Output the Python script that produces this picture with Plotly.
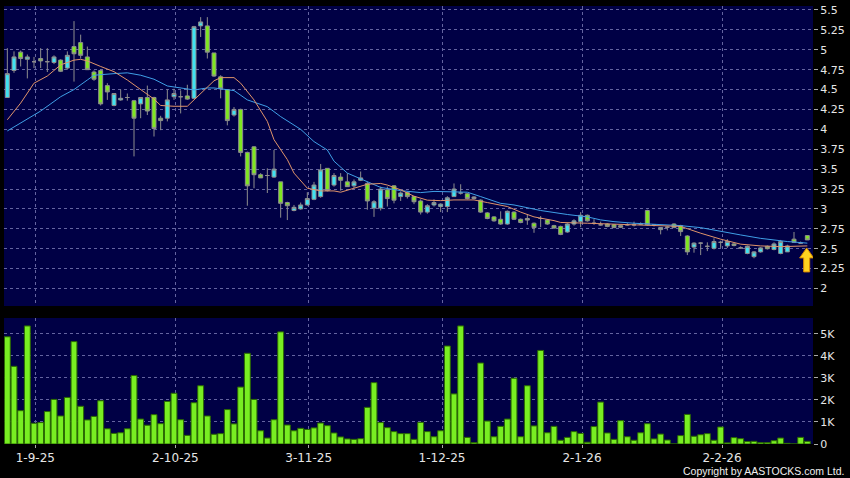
import plotly.graph_objects as go

# ---- data (bar index 0..120, one bar per trading day) ----
tick_pos = [4.2, 25.2, 45.2, 65.2, 86.2, 107.2]
tick_labels = ["1-9-25", "2-10-25", "3-11-25", "1-12-25", "2-1-26", "2-2-26"]

opens = [4.40, 4.74, 4.97, 4.88, 4.85, 4.89, 4.85, 4.84, 4.87, 4.77,
         5.04, 5.09, 4.91, 4.72, 4.74, 4.55, 4.30, 4.37, 4.40, 4.36,
         4.32, 4.40, 4.40, 4.14, 4.14, 4.41, 4.41, 4.42, 4.39, 5.30,
         5.30, 4.96, 4.66, 4.50, 4.18, 4.25, 3.71, 3.78, 3.43, 3.42,
         3.40, 3.34, 3.08, 2.98, 3.00, 3.05, 3.12, 3.155, 3.51, 3.30,
         3.40, 3.34, 3.29, 3.36, 3.32, 3.01, 3.01, 3.24, 3.29, 3.155,
         3.205, 3.155, 3.10, 2.96, 3.05, 3.03, 3.03, 3.155, 3.20, 3.19,
         3.13, 3.11, 2.95, 2.90, 2.87, 2.81, 2.96, 2.87, 2.88, 2.82,
         2.88, 2.86, 2.79, 2.78, 2.71, 2.81, 2.84, 2.92, 2.82, 2.80,
         2.81, 2.80, 2.79, 2.80, 2.80, 2.81, 2.98, 2.80, 2.74, 2.77,
         2.81, 2.79, 2.66, 2.52, 2.57, 2.53, 2.505, 2.58, 2.535, 2.56,
         2.51, 2.44, 2.40, 2.46, 2.53, 2.49, 2.44, 2.46, 2.62, 2.57,
         2.665]
highs = [5.02, 4.98, 4.99, 4.94, 4.91, 5.02, 5.02, 4.93, 4.88, 4.98,
         5.36, 5.19, 5.04, 4.74, 4.75, 4.58, 4.45, 4.50, 4.45, 4.37,
         4.40, 4.55, 4.41, 4.17, 4.50, 4.51, 4.49, 4.56, 5.30, 5.41,
         5.41, 4.96, 4.68, 4.50, 4.28, 4.26, 3.72, 3.79, 3.45, 3.51,
         3.74, 3.34, 3.09, 3.05, 3.08, 3.21, 3.34, 3.565, 3.51, 3.45,
         3.45, 3.45, 3.37, 3.47, 3.34, 3.11, 3.28, 3.28, 3.30, 3.22,
         3.22, 3.16, 3.12, 3.06, 3.12, 3.07, 3.16, 3.32, 3.31, 3.20,
         3.16, 3.12, 2.96, 2.91, 2.97, 2.98, 2.97, 2.88, 2.93, 2.83,
         2.91, 2.87, 2.80, 2.79, 2.82, 2.87, 2.96, 2.93, 2.87, 2.84,
         2.82, 2.81, 2.80, 2.82, 2.84, 2.83, 2.99, 2.81, 2.77, 2.78,
         2.82, 2.80, 2.67, 2.58, 2.58, 2.58, 2.63, 2.60, 2.62, 2.57,
         2.53, 2.54, 2.47, 2.52, 2.54, 2.58, 2.61, 2.55, 2.71, 2.59,
         2.67]
lows = [4.40, 4.71, 4.79, 4.64, 4.77, 4.77, 4.72, 4.82, 4.72, 4.75,
        4.60, 4.89, 4.75, 4.61, 4.30, 4.37, 4.29, 4.36, 4.36, 3.66,
        4.14, 4.18, 3.91, 3.99, 4.10, 4.37, 4.20, 4.37, 4.38, 5.16,
        4.89, 4.66, 4.39, 4.05, 4.16, 3.66, 3.04, 3.26, 3.39, 3.20,
        3.39, 2.89, 2.86, 2.97, 2.99, 3.04, 3.11, 3.14, 3.22, 3.28,
        3.23, 3.28, 3.26, 3.35, 2.99, 2.90, 2.98, 3.03, 3.07, 3.10,
        3.13, 3.06, 2.93, 2.94, 3.03, 2.96, 2.96, 3.155, 3.18, 3.12,
        3.12, 2.95, 2.87, 2.84, 2.80, 2.80, 2.86, 2.82, 2.80, 2.70,
        2.77, 2.80, 2.75, 2.67, 2.70, 2.79, 2.77, 2.84, 2.80, 2.79,
        2.77, 2.76, 2.76, 2.79, 2.78, 2.80, 2.79, 2.78, 2.68, 2.73,
        2.76, 2.66, 2.42, 2.45, 2.42, 2.47, 2.49, 2.51, 2.51, 2.53,
        2.50, 2.43, 2.38, 2.45, 2.49, 2.48, 2.43, 2.46, 2.58, 2.56,
        2.61]
closes = [4.70, 4.91, 4.89, 4.91, 4.85, 4.86, 4.85, 4.91, 4.73, 4.93,
          4.95, 4.93, 4.75, 4.63, 4.32, 4.47, 4.45, 4.39, 4.40, 4.14,
          4.40, 4.23, 4.01, 4.11, 4.37, 4.45, 4.41, 4.38, 5.29, 5.35,
          4.97, 4.67, 4.51, 4.11, 4.25, 3.71, 3.29, 3.43, 3.39, 3.42,
          3.50, 3.07, 3.04, 3.02, 3.05, 3.13, 3.30, 3.49, 3.23, 3.42,
          3.36, 3.28, 3.34, 3.39, 3.10, 3.09, 3.25, 3.13, 3.11, 3.20,
          3.155, 3.09, 2.96, 3.04, 3.08, 3.06, 3.14, 3.25, 3.20, 3.13,
          3.15, 2.96, 2.88, 2.85, 2.81, 2.97, 2.87, 2.83, 2.86, 2.765,
          2.88, 2.81, 2.76, 2.68, 2.81, 2.85, 2.92, 2.85, 2.82, 2.80,
          2.78, 2.765, 2.77, 2.80, 2.80, 2.81, 2.80, 2.80, 2.765, 2.77,
          2.765, 2.715, 2.46, 2.57, 2.57, 2.53, 2.59, 2.58, 2.59, 2.54,
          2.51, 2.53, 2.46, 2.51, 2.50, 2.56, 2.59, 2.535, 2.58, 2.57,
          2.61]

volumes = [4860, 3520, 1510, 5350, 940, 970, 1470, 2020, 1270, 2110,
           4640, 1710, 1090, 1250, 1960, 690, 480, 510, 690, 3100,
           1130, 850, 1330, 920, 1930, 2300, 1100, 390, 1870, 2640,
           1270, 440, 470, 1560, 910, 2580, 4110, 2020, 600, 270,
           1100, 5080, 860, 600, 710, 660, 730, 950, 830, 500,
           320, 230, 210, 240, 1660, 2780, 970, 740, 560, 470,
           470, 210, 980, 560, 330, 600, 4440, 2270, 5350, 300,
           60, 3670, 1040, 330, 800, 1130, 2980, 330, 2640, 820,
           4240, 510, 800, 170, 300, 560, 480, 80, 790, 1900,
           500, 210, 1060, 330, 170, 510, 920, 230, 450, 180,
           0, 380, 1340, 350, 420, 470, 170, 770, 50, 290,
           240, 110, 120, 60, 60, 150, 270, 30, 0, 300,
           120]

# moving averages
ma_short_x = [0, 2, 4, 6, 8, 10, 11, 12, 14, 16, 18, 20, 22, 23, 25, 27, 29, 31, 32, 34,
              35, 37, 39, 40, 42, 43, 45, 47, 49, 50, 52, 54, 56, 57, 59, 61, 63, 65, 67,
              70, 72, 75, 77, 79, 82, 83, 87, 90, 94, 101, 104, 107, 110, 113, 116, 120]
ma_short = [4.12, 4.33, 4.58, 4.67, 4.81, 4.87, 4.88, 4.86, 4.79, 4.725, 4.62, 4.50, 4.38,
            4.30, 4.29, 4.29, 4.45, 4.61, 4.65, 4.65, 4.58, 4.37, 4.10, 3.87, 3.62, 3.45,
            3.26, 3.226, 3.226, 3.21, 3.26, 3.31, 3.32, 3.30, 3.24, 3.16, 3.11, 3.104,
            3.113, 3.113, 3.08, 3.03, 2.96, 2.90, 2.853, 2.83, 2.82, 2.81, 2.80, 2.78,
            2.695, 2.62, 2.557, 2.535, 2.526, 2.535]
ma_long_x = [0, 2, 5, 8, 10, 12, 13, 16, 18, 20, 22, 24, 26, 28, 30, 31, 34, 36, 39, 41,
             44, 46, 48, 49, 51, 54, 56, 59, 62, 64, 69, 71, 74, 76, 80, 84, 87, 89, 91,
             94, 101, 104, 107, 110, 113, 117, 120]
ma_long = [3.98, 4.08, 4.23, 4.41, 4.50, 4.62, 4.68, 4.70, 4.71, 4.68, 4.63, 4.545, 4.52,
           4.495, 4.52, 4.52, 4.487, 4.37, 4.285, 4.16, 4.00, 3.846, 3.74, 3.60, 3.45,
           3.343, 3.27, 3.23, 3.205, 3.22, 3.21, 3.155, 3.07, 3.05, 2.98, 2.93, 2.90,
           2.862, 2.84, 2.82, 2.79, 2.765, 2.715, 2.673, 2.63, 2.59, 2.57]

price_ticks = [2, 2.25, 2.5, 2.75, 3, 3.25, 3.5, 3.75, 4, 4.25, 4.5, 4.75, 5, 5.25, 5.5]
vol_ticks = [0, 1000, 2000, 3000, 4000, 5000]
vol_labels = ["0", "1K", "2K", "3K", "4K", "5K"]

idx = list(range(len(closes)))

GRID = "#6464a0"
DASH = "3px,3px"
BG = "#000045"
FONT = dict(family="DejaVu Sans", size=11, color="#e6e6e6")

fig = go.Figure()

fig.add_trace(go.Candlestick(
    x=idx, open=opens, high=highs, low=lows, close=closes,
    increasing=dict(fillcolor="#3fe2f2", line=dict(color="#8e8e8e", width=1)),
    decreasing=dict(fillcolor="#7fe820", line=dict(color="#8e8e8e", width=1)),
    whiskerwidth=0, showlegend=False, xaxis="x", yaxis="y",
))
fig.add_trace(go.Scatter(
    x=ma_long_x, y=ma_long, mode="lines", line=dict(color="#3f9fe6", width=1),
    showlegend=False, xaxis="x", yaxis="y",
))
fig.add_trace(go.Scatter(
    x=ma_short_x, y=ma_short, mode="lines", line=dict(color="#e0946a", width=1),
    showlegend=False, xaxis="x", yaxis="y",
))
fig.add_trace(go.Bar(
    x=idx, y=volumes, marker=dict(color="#78ee22", line=dict(color="#2b6a00", width=1)),
    showlegend=False, xaxis="x2", yaxis="y2",
))

x_dom = [4 / 850, 813 / 850]
x_rng = [-0.5, 120.85]

fig.update_layout(
    width=850, height=478, autosize=False,
    margin=dict(l=0, r=0, t=0, b=0, autoexpand=False),
    paper_bgcolor="black", plot_bgcolor=BG,
    font=FONT, bargap=0.12, boxgap=0.15,
    xaxis=dict(
        domain=x_dom, range=x_rng, anchor="y", automargin=False,
        tickvals=tick_pos, showticklabels=False, ticks="",
        showgrid=True, gridcolor=GRID, griddash=DASH, gridwidth=1,
        zeroline=False, rangeslider=dict(visible=False),
    ),
    yaxis=dict(
        domain=[1 - 306 / 478, 1 - 6 / 478], range=[1.78, 5.55], anchor="x",
        automargin=False,
        side="right", tickvals=price_ticks, ticktext=[f"{v:g}" for v in price_ticks],
        ticks="outside", ticklen=4, tickcolor="#aaaaaa",
        showgrid=True, gridcolor=GRID, griddash=DASH, gridwidth=1, zeroline=False,
    ),
    xaxis2=dict(
        domain=x_dom, range=x_rng, anchor="y2", matches="x", automargin=False,
        tickvals=tick_pos, ticktext=tick_labels, ticks="outside", ticklen=3,
        tickcolor="#aaaaaa", tickfont=dict(size=12),
        showgrid=True, gridcolor=GRID, griddash=DASH, gridwidth=1, zeroline=False,
    ),
    yaxis2=dict(
        domain=[1 - 444 / 478, 1 - 318 / 478], range=[0, 5710], anchor="x2",
        automargin=False,
        side="right", tickvals=vol_ticks, ticktext=vol_labels,
        ticks="outside", ticklen=4, tickcolor="#aaaaaa",
        showgrid=True, gridcolor=GRID, griddash=DASH, gridwidth=1, zeroline=False,
    ),
    annotations=[dict(
        text="Copyright by AASTOCKS.com Ltd.", xref="paper", yref="paper",
        x=846 / 850, y=1 - 471 / 478, xanchor="right", yanchor="middle",
        showarrow=False, font=dict(family="Liberation Sans", size=10.5, color="#f0f0f0"),
    )],
    shapes=[dict(
        type="path", xref="x", yref="y", xsizemode="pixel", ysizemode="pixel",
        xanchor=len(closes) - 1.1, yanchor=2.51,
        path="M 0,0 L -7,-10 L -3,-10 L -3,-24 L 3,-24 L 3,-10 L 7,-10 Z",
        fillcolor="#ffd420", line=dict(color="#d98a00", width=1),
    )],
)

# page body has a default 8px margin; drop it so the figure sits at 0,0
fig.write_html(
    "out.html",
    config={"displayModeBar": False, "responsive": False},
    post_script=(
        "document.documentElement.style.overflow='hidden';"
        "document.body.style.overflow='hidden';"
        "document.body.style.margin='0';"
        "document.body.style.background='black';"
    ),
)
